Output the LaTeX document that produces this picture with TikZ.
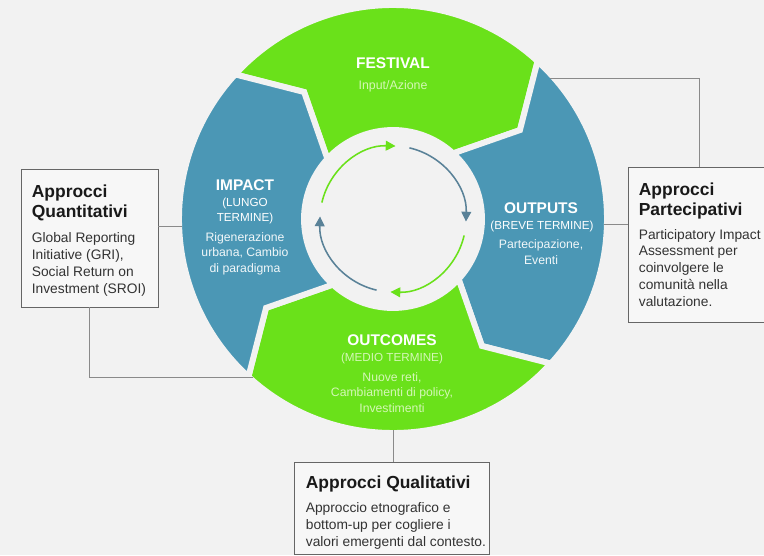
\documentclass[tikz,border=0pt]{standalone}
\usepackage{fontspec}
\setmainfont{Liberation Sans}
\usetikzlibrary{arrows.meta,calc}

\definecolor{bg}{HTML}{F2F2F2}
\definecolor{segGreen}{HTML}{6AE11A}
\definecolor{segBlue}{HTML}{4B97B5}
\definecolor{arrBlue}{HTML}{5A8298}
\definecolor{paleGreen}{HTML}{D4F7B6}
\definecolor{lineGray}{HTML}{8A8A8A}
\newcommand{\pxu}{0.025cm}

\tikzset{
  seg/.style={draw=bg, line width=4.2pt},
  cyc/.style={line width=1.1pt, -{Triangle[length=7pt,width=7pt]}},
  conn/.style={draw=lineGray, line width=0.6pt},
  box/.style={draw=black!60, fill=white!40!bg, line width=0.6pt, inner sep=0pt},
  segtitle/.style={anchor=base, inner sep=0pt, text=white, font=\fontsize{11}{12}\selectfont\bfseries},
  segsub/.style={anchor=base, inner sep=0pt, align=center, font=\fontsize{8.3}{10.6}\selectfont},
  segbody/.style={anchor=base, inner sep=0pt, align=center, font=\fontsize{8.7}{11}\selectfont},
  boxtitle/.style={anchor=base west, inner sep=0pt, align=left, text=black!90, font=\fontsize{12.4}{14.2}\selectfont\bfseries},
  boxbody/.style={anchor=base west, inner sep=0pt, align=left, text=black!80, font=\fontsize{9.8}{12}\selectfont}
}

\begin{document}
\begin{tikzpicture}[x=\pxu, y=\pxu]
    \useasboundingbox (0,0) rectangle (764,555);
    \clip (0,0) rectangle (764,555);
    \fill[bg] (0,0) rectangle (764,555);
    \coordinate (C) at (393,336);

    % cycle segments
    \begin{scope}[shift={(C)}]
    \foreach \b/\col in {137.5/segGreen, 47.5/segBlue, -42.5/segGreen, -132.5/segBlue}
        \fill[\col, seg] (\b:214) arc[start angle=\b, end angle=\b-90, radius=214]
            -- (\b-102.5:155) -- (\b-90:89)
            arc[start angle=\b-90, end angle=\b, radius=89]
            -- (\b-12.5:155) -- cycle;
    \foreach \a/\col in {167/segGreen, 77/arrBlue, -13/segGreen, -103/arrBlue}
        \draw[cyc, \col] (\a:73) arc[start angle=\a, end angle=\a-79, radius=73];
    \end{scope}

    % segment labels (multi-line nodes sit on their last baseline)
    \node[segtitle] (festT) at (393,486.5) {FESTIVAL};
    \node[segsub, text=paleGreen, font=\fontsize{8.8}{11}\selectfont] (festS) at (393,465) {Input/Azione};

    \node[segtitle] (impT) at (245,364.5) {IMPACT};
    \node[segsub, text=white] (impS) at (245,334) {(LUNGO\\TERMINE)};
    \node[segbody, text=white!92!segBlue] (impB) at (245,283) {Rigenerazione\\urbana, Cambio\\di paradigma};

    \node[segtitle] (outT) at (541,341.5) {OUTPUTS};
    \node[segsub, text=white] (outS) at (542,326) {(BREVE TERMINE)};
    \node[segbody, text=white!92!segBlue] (outB) at (541,291) {Partecipazione,\\Eventi};

    \node[segtitle] (ocT) at (392,209.5) {OUTCOMES};
    \node[segsub, text=paleGreen] (ocS) at (392,194) {(MEDIO TERMINE)};
    \node[segbody, text=paleGreen] (ocB) at (392,143) {Nuove reti,\\Cambiamenti di policy,\\Investimenti};

    % boxes
    \node[box, minimum width=137*\pxu, minimum height=138*\pxu] (quanti) at (89.5,317) {};
    \node[boxtitle] (quantiT) at ($(quanti.north west)+(11,-49)$) {Approcci\\Quantitativi};
    \node[boxbody] (quantiB) at ($(quanti.north west)+(11,-125)$) {Global Reporting\\Initiative (GRI),\\Social Return on\\Investment (SROI)};

    \node[box, minimum width=142*\pxu, minimum height=155*\pxu] (parte) at (699,310.5) {};
    \node[boxtitle] (parteT) at ($(parte.north west)+(11,-49)$) {Approcci\\Partecipativi};
    \node[boxbody] (parteB) at ($(parte.north west)+(11,-140)$) {Participatory Impact\\Assessment per\\coinvolgere le\\comunità nella\\valutazione.};

    \node[box, minimum width=195*\pxu, minimum height=92*\pxu] (quali) at (391.5,47) {};
    \node[boxtitle] (qualiT) at ($(quali.north west)+(12,-27)$) {Approcci Qualitativi};
    \node[boxbody] (qualiB) at ($(quali.north west)+(12,-85)$) {Approccio etnografico e\\bottom-up per cogliere i\\valori emergenti dal contesto.};

    % connectors
    \coordinate (pL) at ($(C)+(181.9:211)$);
    \coordinate (pLL) at ($(C)+(228.5:211)$);
    \coordinate (pR) at ($(C)+(-1.6:211)$);
    \coordinate (pRU) at ($(C)+(41.9:211)$);
    \coordinate (pB) at ($(C)+(-90:211)$);
    \draw[conn] (pL) -- (pL -| quanti.east);
    \draw[conn] (quanti.south) |- (pLL);
    \draw[conn] (pR) -- (pR -| parte.west);
    \draw[conn] (parte.north) |- (pRU);
    \draw[conn] (pB) -- (pB |- quali.north);
\end{tikzpicture}
\end{document}
